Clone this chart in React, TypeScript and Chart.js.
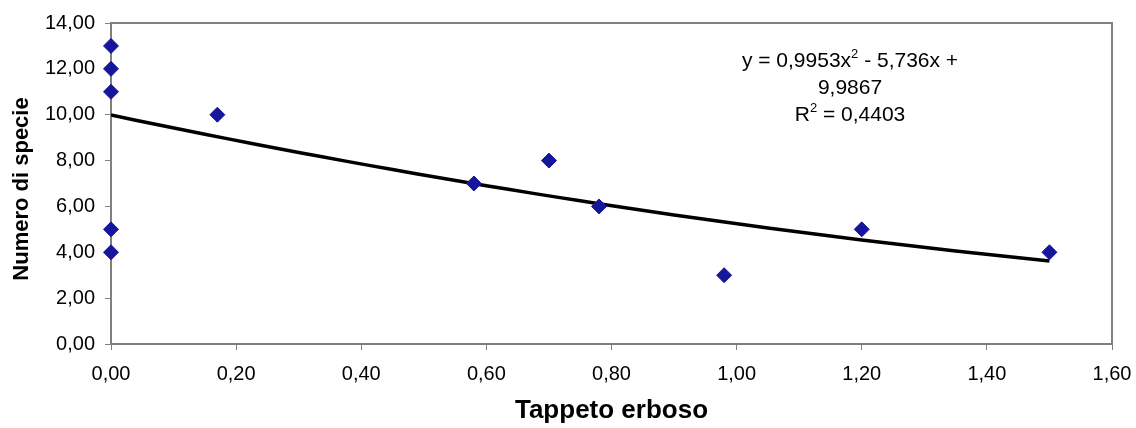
import React, { useEffect, useRef } from "react";
import { Chart, registerables } from "chart.js";

Chart.register(...registerables);

// Observations (Tappeto erboso vs Numero di specie)
const xValues = [0, 0, 0, 0, 0, 0.17, 0.58, 0.7, 0.78, 0.98, 1.2, 1.5];
const yValues = [13, 12, 11, 5, 4, 10, 7, 8, 6, 3, 5, 4];

// Polynomial trendline coefficients printed on the chart
const trendA = 0.9953;
const trendB = -5.736;
const trendC = 9.9867;
const trendSteps = 40;

// Axis settings
const xMin = 0;
const xMax = 1.6;
const xStep = 0.2;
const yMin = 0;
const yMax = 14;
const yStep = 2;

const xTitle = "Tappeto erboso";
const yTitle = "Numero di specie";
const eqLine1a = "y = 0,9953x";
const eqLine1b = " - 5,736x +";
const eqLine2 = "9,9867";
const eqLine3a = "R";
const eqLine3b = " = 0,4403";
const sup = "2";

const FONT = '"Liberation Sans", Arial, Helvetica, sans-serif';
const fmt = (v: number) => v.toFixed(2).replace(".", ",");

export default function App() {
  const canvasRef = useRef<HTMLCanvasElement | null>(null);

  useEffect(() => {
    document.body.style.margin = "0";
    const canvas = canvasRef.current;
    if (!canvas) return;

    const points = xValues.map((x, i) => ({ x, y: yValues[i] }));
    const xEnd = Math.max(...xValues);
    const trend: { x: number; y: number }[] = [];
    for (let i = 0; i <= trendSteps; i++) {
      const x = (xEnd * i) / trendSteps;
      trend.push({ x, y: trendA * x * x + trendB * x + trendC });
    }

    const decor = {
      id: "decor",
      beforeDatasetsDraw(chart: any) {
        const ctx = chart.ctx as CanvasRenderingContext2D;
        const a = chart.chartArea;
        ctx.save();
        ctx.strokeStyle = "#808080";
        ctx.lineWidth = 2;
        ctx.beginPath();
        ctx.moveTo(a.left, a.top);
        ctx.lineTo(a.right, a.top);
        ctx.lineTo(a.right, a.bottom);
        ctx.stroke();
        ctx.restore();
      },
      afterDraw(chart: any) {
        const ctx = chart.ctx as CanvasRenderingContext2D;
        const a = chart.chartArea;
        ctx.save();
        ctx.fillStyle = "#000";
        // x title
        ctx.font = `bold 26px ${FONT}`;
        ctx.textAlign = "center";
        ctx.textBaseline = "middle";
        ctx.fillText(xTitle, (a.left + a.right) / 2, 411);
        // y title
        ctx.save();
        ctx.translate(22, 189);
        ctx.rotate(-Math.PI / 2);
        ctx.font = `bold 22px ${FONT}`;
        ctx.fillText(yTitle, 0, 0);
        ctx.restore();

        // equation
        const cx = 850;
        const main = `21px ${FONT}`;
        const small = `13px ${FONT}`;
        ctx.textAlign = "left";
        ctx.textBaseline = "middle";
        const drawSup = (pre: string, post: string, y: number) => {
          ctx.font = main;
          const w1 = ctx.measureText(pre).width;
          const w3 = ctx.measureText(post).width;
          ctx.font = small;
          const w2 = ctx.measureText(sup).width;
          let x = cx - (w1 + w2 + w3) / 2;
          ctx.font = main;
          ctx.fillText(pre, x, y);
          x += w1;
          ctx.font = small;
          ctx.fillText(sup, x, y - 7);
          x += w2;
          ctx.font = main;
          ctx.fillText(post, x, y);
        };
        drawSup(eqLine1a, eqLine1b, 61);
        ctx.font = main;
        ctx.textAlign = "center";
        ctx.fillText(eqLine2, cx, 88);
        ctx.textAlign = "left";
        drawSup(eqLine3a, eqLine3b, 115);
        ctx.restore();
      },
    };

    const chart = new Chart(canvas, {
      type: "scatter",
      data: {
        datasets: [
          {
            type: "line",
            data: trend,
            borderColor: "#000",
            borderWidth: 3.5,
            pointRadius: 0,
            fill: false,
            tension: 0,
            order: 2,
          } as any,
          {
            data: points,
            backgroundColor: "#16169a",
            borderColor: "#16169a",
            borderWidth: 1,
            pointStyle: "rectRot",
            pointRadius: 7.5,
            clip: false,
            order: 1,
          } as any,
        ],
      },
      options: {
        animation: false,
        responsive: true,
        maintainAspectRatio: false,
        layout: { padding: { top: 23, right: 24, left: 0, bottom: 0 } },
        plugins: {
          legend: { display: false },
          tooltip: { enabled: false },
        },
        scales: {
          x: {
            type: "linear",
            min: xMin,
            max: xMax,
            afterFit: (s: any) => {
              s.height = 84;
              s.paddingRight = 0;
              s.paddingLeft = 0;
            },
            ticks: {
              stepSize: xStep,
              color: "#000",
              font: { family: FONT, size: 20 },
              padding: 12,
              maxRotation: 0,
              callback: (v: any) => fmt(Number(v)),
            },
            grid: {
              drawOnChartArea: false,
              drawTicks: true,
              tickLength: 6,
              color: "#808080",
              lineWidth: 1,
            },
            border: { color: "#808080", width: 2 },
          },
          y: {
            type: "linear",
            min: yMin,
            max: yMax,
            afterFit: (s: any) => {
              s.width = 111;
              s.paddingTop = 0;
              s.paddingBottom = 0;
            },
            ticks: {
              stepSize: yStep,
              color: "#000",
              font: { family: FONT, size: 20 },
              padding: 10,
              callback: (v: any) => fmt(Number(v)),
            },
            grid: {
              drawOnChartArea: false,
              drawTicks: true,
              tickLength: 6,
              color: "#808080",
              lineWidth: 1,
            },
            border: { color: "#808080", width: 2 },
          },
        },
      },
      plugins: [decor],
    });

    return () => chart.destroy();
  }, []);

  return (
    <div style={{ position: "relative", width: 1136, height: 428, background: "#fff" }}>
      <canvas ref={canvasRef} />
    </div>
  );
}
